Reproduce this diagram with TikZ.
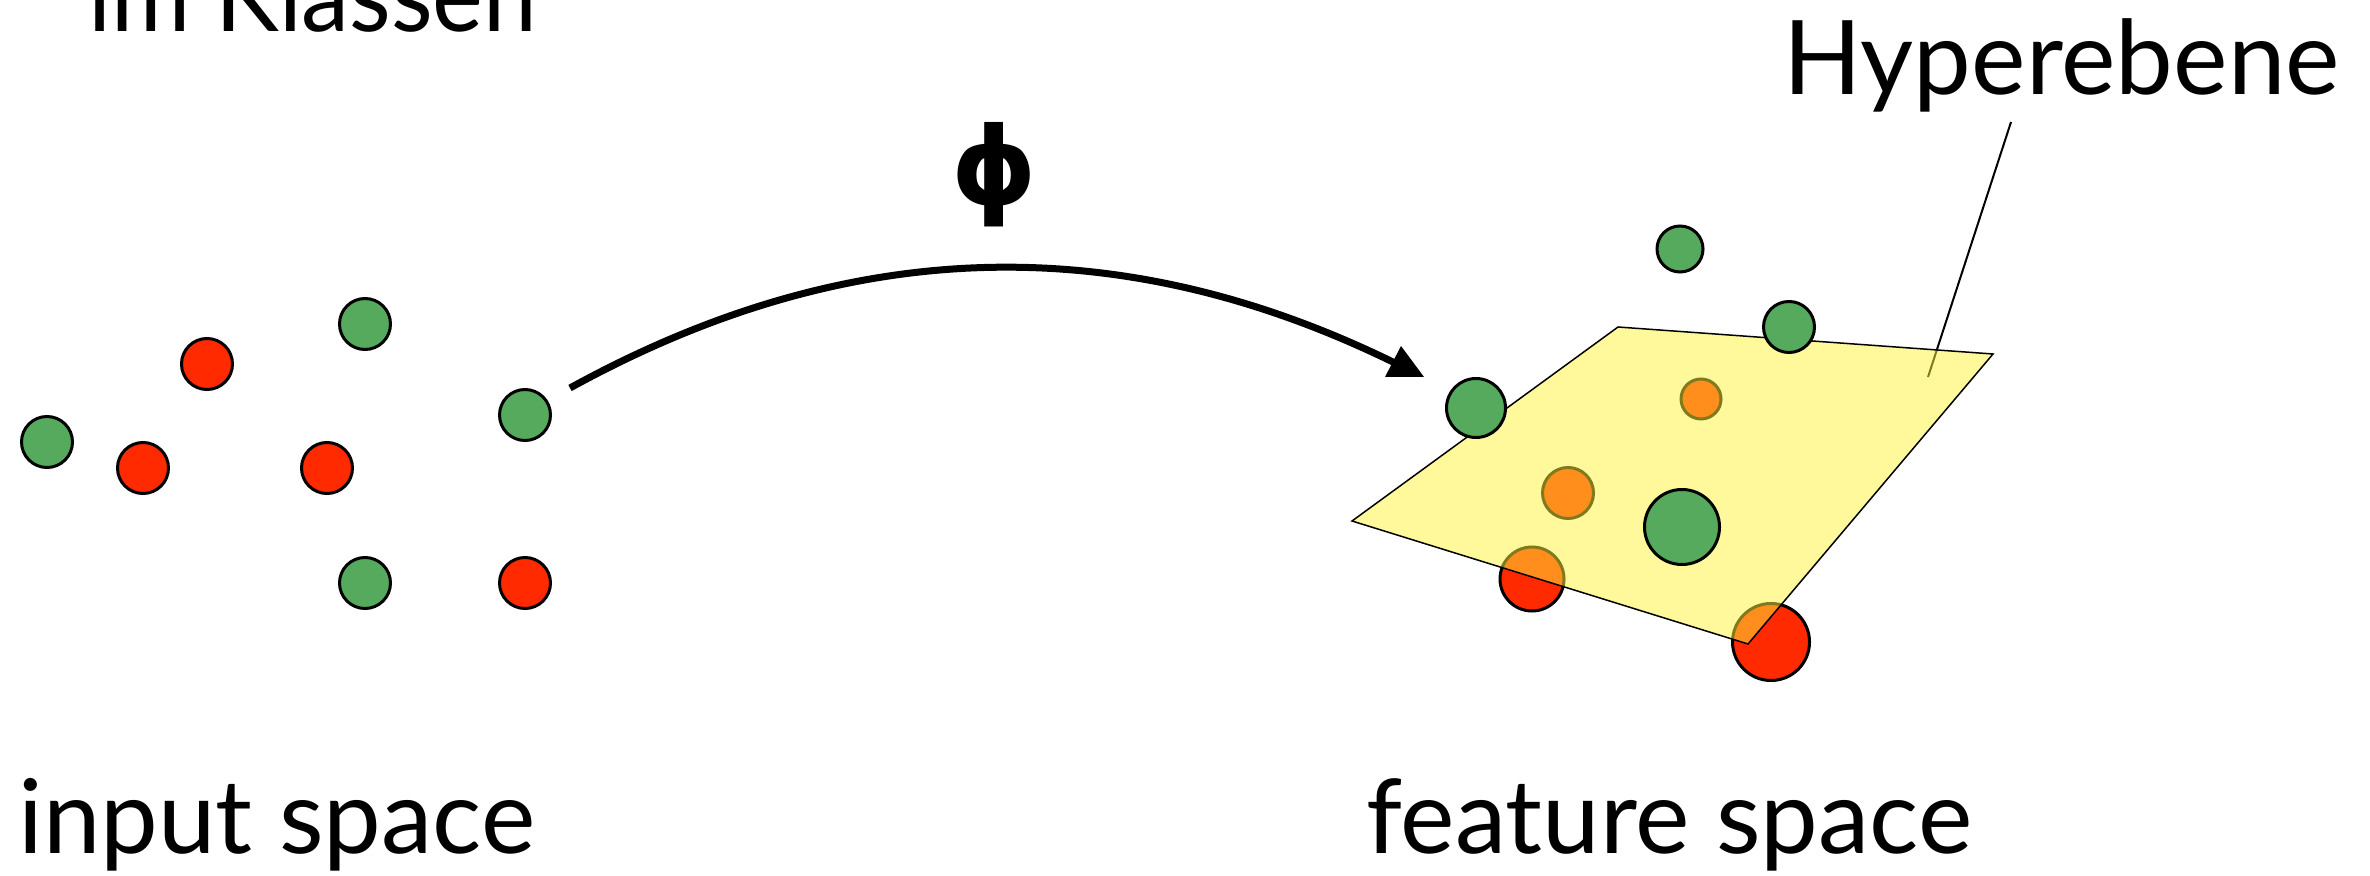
\documentclass[tikz,border=0pt]{standalone}
\usepackage{fontspec}
\setmainfont{Lato}
\newfontfamily\phifont{DejaVu Sans}
\definecolor{dotgreen}{RGB}{86,170,94}
\definecolor{dotred}{RGB}{255,42,0}
\definecolor{planeyellow}{RGB}{255,243,58}
\begin{document}
\begin{tikzpicture}[x=0.5pt,y=-0.5pt,
  ball/.style={circle,draw=black,line width=1.5pt,inner sep=0pt,minimum size=#1},
  gball/.style={ball=#1,fill=dotgreen},
  rball/.style={ball=#1,fill=dotred},
  bigtext/.style={inner sep=0pt,font=\fontsize{51.5}{60}\selectfont},
]
\useasboundingbox (0,0) rectangle (2370,876);

% input space: two classes of points
\node[gball=25.5pt] (in1) at (47,442) {};
\node[rball=25.5pt] (in2) at (143,468) {};
\node[rball=25.5pt] (in3) at (207,364) {};
\node[gball=25.5pt] (in4) at (365,324) {};
\node[rball=25.5pt] (in5) at (327,468) {};
\node[gball=25.5pt] (in6) at (525,415) {};
\node[gball=25.5pt] (in7) at (365,583) {};
\node[rball=25.5pt] (in8) at (525,583) {};

% leader line of the plane label (lies under the plane)
\coordinate (hyptop) at (2011,122);
\coordinate (hypfoot) at (1928,377);
\draw[line width=1pt] (hyptop) -- (hypfoot);

% feature space: points below the hyperplane
\node[rball=32pt] (f1) at (1532,579) {};
\node[rball=38.5pt] (f2) at (1771,642) {};
\node[rball=20pt] (f3) at (1701,399) {};
\node[rball=25.5pt] (f4) at (1568,493) {};

% the separating hyperplane, half transparent
\coordinate (p1) at (1618,327);
\coordinate (p2) at (1993,354);
\coordinate (p3) at (1748,644);
\coordinate (p4) at (1352,521);
\fill[planeyellow,opacity=0.5] (p1) -- (p2) -- (p3) -- (p4) -- cycle;
\draw[line width=0.75pt] (p1) -- (p2) -- (p3) -- (p4) -- cycle;

% feature space: points above the hyperplane
\node[gball=23pt] (f5) at (1680,249) {};
\node[gball=25.5pt] (f6) at (1789,327) {};
\node[gball=29.5pt] (f7) at (1476,408) {};
\node[gball=37.5pt] (f8) at (1682,527) {};

% the mapping phi
\coordinate (mapfrom) at (570,388);
\coordinate (mapto) at (1397,364);
\draw[line width=3.5pt] (mapfrom) .. controls (830,245) and (1103,219) .. (mapto);
\fill (1401,346) -- (1424,377) -- (1385,377) -- cycle;
\node[inner sep=0pt,font=\phifont\bfseries\fontsize{54}{60}\selectfont] (phi) at (994,175) {ϕ};

% labels
\node[bigtext,anchor=base west] (cls) at (88,32) {\scalebox{0.934}[1]{im Klassen}};
\node[bigtext,anchor=base west] (inlab) at (18,853) {input space};
\node[bigtext,anchor=base west] (featlab) at (1366,853) {feature space};
\node[bigtext,anchor=base east] (hyplab) at (2340,95) {Hyperebene};
\end{tikzpicture}
\end{document}
